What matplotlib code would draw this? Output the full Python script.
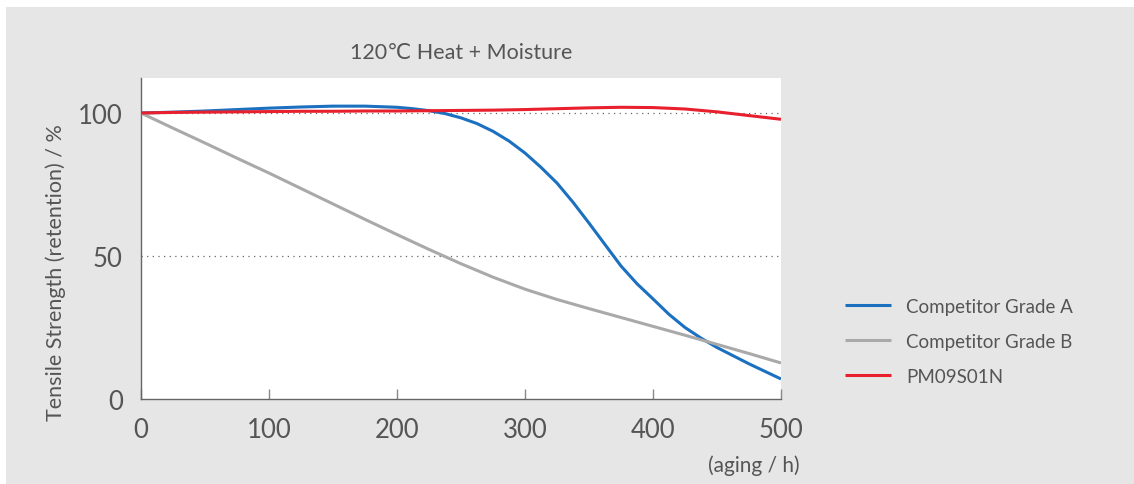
import matplotlib
matplotlib.use("Agg")
import matplotlib.pyplot as plt
from matplotlib.patches import Rectangle

hours = [0, 25, 50, 75, 100, 125, 150, 175, 200, 225, 250, 275, 300, 325, 350, 375, 400, 425, 450, 475, 500]
hours_a = [0, 25, 50, 75, 100, 125, 150, 175, 200, 212.5, 225, 237.5, 250, 262.5, 275, 287.5, 300, 312.5,
           325, 337.5, 350, 362.5, 375, 387.5, 400, 412.5, 425, 437.5, 450, 475, 500]
grade_a = [100, 100.3, 100.7, 101.2, 101.7, 102.1, 102.4, 102.4, 102.0, 101.5, 100.8, 99.8, 98.3, 96.3,
           93.6, 90.2, 86.0, 81.0, 75.5, 68.8, 61.5, 54.0, 46.5, 40.3, 35.0, 29.6, 25.0, 21.3, 18.0, 12.3, 7.0]
grade_b = [100, 94.7, 89.5, 84.2, 79.0, 73.6, 68.2, 62.8, 57.5, 52.3, 47.3, 42.6, 38.4, 34.8, 31.6, 28.5, 25.4, 22.3, 19.1, 15.9, 12.6]
pm09 = [100, 100.2, 100.3, 100.4, 100.5, 100.6, 100.6, 100.7, 100.7, 100.8, 100.9, 101.0, 101.2, 101.5, 101.8, 102.0, 101.9, 101.4, 100.4, 99.1, 97.8]
series_names = ["Competitor Grade A", "Competitor Grade B", "PM09S01N"]
xticks = [0, 100, 200, 300, 400, 500]
yticks = [0, 50, 100]

FONT = ["Lato", "DejaVu Sans"]
plt.rcParams["font.family"] = FONT
W, H = 1134, 485
fig = plt.figure(figsize=(W / 100, H / 100), dpi=100)
fig.patch.set_facecolor("white")
bg = Rectangle((6 / W, 0), 1 - 6 / W, 1 - 8 / H, transform=fig.transFigure,
               facecolor="#e6e6e6", edgecolor="none", zorder=-10)
fig.add_artist(bg)

left, right, top, bottom = 141, 781, 79, 400
ax = fig.add_axes([left / W, (H - bottom) / H, (right - left) / W, (bottom - top) / H])
ax.set_zorder(5)
ax.set_facecolor("white")
ax.set_xlim(0, 500)
ax.set_ylim(0, (bottom - top) / 2.86)

txt = "#555555"
ax.axhline(50, color="#666666", lw=0.9, ls=(0, (1, 3.5)), zorder=1)
ax.axhline(100, color="#666666", lw=0.9, ls=(0, (1, 3.5)), zorder=1)

colors = ["#1b70c0", "#a9a9a9", "#e8202e"]
for xs, ys, c, name in zip([hours_a, hours, hours], [grade_a, grade_b, pm09], colors, series_names):
    ax.plot(xs, ys, color=c, lw=2.2, label=name, zorder=3, solid_capstyle="butt",
            solid_joinstyle="round")

for s in ["top", "right"]:
    ax.spines[s].set_visible(False)
for s in ["left", "bottom"]:
    ax.spines[s].set_color("#666666")
    ax.spines[s].set_linewidth(1.0)

ax.set_xticks(xticks)
ax.set_yticks(yticks)
ax.tick_params(axis="x", direction="in", length=7, width=1, color="#888888",
               labelsize=18.5, labelcolor=txt, pad=13)
ax.tick_params(axis="y", length=0, labelsize=18.5, labelcolor=txt, pad=13)

ax.set_ylabel("Tensile Strength (retention) / %", fontsize=15.5, color=txt)
ax.yaxis.set_label_coords(-75 / 640, (400 - 273) / 321)

fig.text(461 / W, 1 - 53 / H, "120℃ Heat + Moisture", ha="center", va="center",
         fontsize=15.5, color=txt, family=FONT, zorder=6)
fig.text(800 / W, 1 - 466 / H, "(aging / h)", ha="right", va="center",
         fontsize=15, color=txt, family=FONT, zorder=6)

leg = ax.legend(loc="upper left", bbox_to_anchor=(845 / W, 1 - 299 / H), bbox_transform=fig.transFigure,
                frameon=False, fontsize=13.5, labelcolor=txt, handlelength=2.45, handletextpad=0.8,
                labelspacing=0.96, borderaxespad=0, borderpad=0)

fig.savefig("out.png", dpi=100, facecolor=fig.get_facecolor())
